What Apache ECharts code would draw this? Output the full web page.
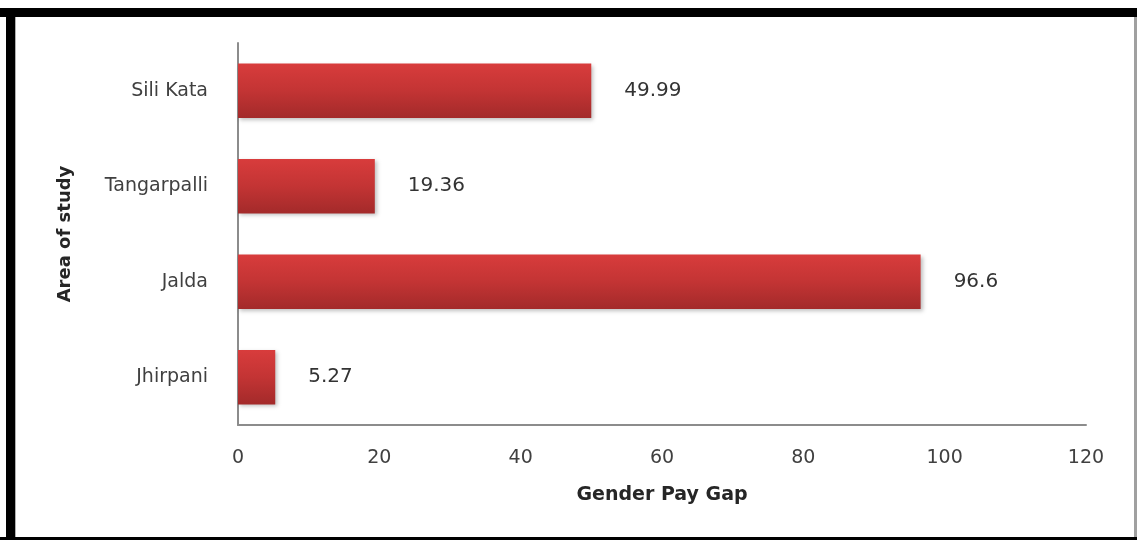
<!DOCTYPE html>
<html>
<head>
<meta charset="utf-8">
<title>Gender Pay Gap by Area of study</title>
<script src="https://cdn.jsdelivr.net/npm/echarts@6/dist/echarts.min.js"></script>
<style>
  html, body { margin: 0; padding: 0; background: #fff; }
  #chart { width: 1137px; height: 540px; }
</style>
</head>
<body>
<div id="chart"></div>
<script>
// Study areas, listed bottom to top as they appear on the category axis
const areas = ['Jhirpani', 'Jalda', 'Tangarpalli', 'Sili Kata'];
// Gender pay gap for each area
const payGap = [5.27, 96.6, 19.36, 49.99];
// Value axis ticks
const gapTicks = [0, 20, 40, 60, 80, 100, 120];

const textFont = '"DejaVu Sans", "Noto Sans", sans-serif';
const chart = echarts.init(document.getElementById('chart'), null, { renderer: 'canvas' });

chart.setOption({
  backgroundColor: '#fff',
  animation: false,
  graphic: [
    // black frame around the chart
    { type: 'rect', shape: { x: 0, y: 8, width: 1137, height: 9 }, style: { fill: '#000' } },
    { type: 'rect', shape: { x: 6, y: 8, width: 9, height: 532 }, style: { fill: '#000' } },
    { type: 'rect', shape: { x: 0, y: 537, width: 1137, height: 3 }, style: { fill: '#000' } },
    { type: 'rect', shape: { x: 1134, y: 17, width: 3, height: 520 }, style: { fill: '#a0a0a0' } },
    { type: 'rect', shape: { x: 15, y: 17, width: 1, height: 520 }, style: { fill: '#b0b0b0' } }
  ],
  grid: { left: 238, right: 51, top: 43, bottom: 115, containLabel: false },
  xAxis: {
    type: 'value',
    min: gapTicks[0],
    max: gapTicks[gapTicks.length - 1],
    interval: gapTicks[1] - gapTicks[0],
    name: 'Gender Pay Gap',
    nameLocation: 'middle',
    nameGap: 61,
    nameTextStyle: { fontFamily: textFont, fontSize: 19, fontWeight: 'bold', color: '#262626' },
    axisLine: { show: true, lineStyle: { color: '#8c8c8c', width: 2 } },
    axisTick: { show: false },
    splitLine: { show: false },
    axisLabel: { fontFamily: textFont, fontSize: 19, color: '#404040', margin: 24 }
  },
  yAxis: {
    type: 'category',
    data: areas,
    name: 'Area of study',
    nameLocation: 'middle',
    nameGap: 164,
    nameRotate: 90,
    nameTextStyle: { fontFamily: textFont, fontSize: 18, fontWeight: 'bold', color: '#262626' },
    axisLine: { show: true, lineStyle: { color: '#8c8c8c', width: 2 } },
    axisTick: { show: false },
    axisLabel: { fontFamily: textFont, fontSize: 19, color: '#404040', margin: 30 }
  },
  series: [{
    type: 'bar',
    data: payGap,
    barWidth: '57%',
    itemStyle: {
      color: new echarts.graphic.LinearGradient(0, 0, 0, 1, [
        { offset: 0, color: '#d83c3c' },
        { offset: 0.5, color: '#c33434' },
        { offset: 1, color: '#a32a2a' }
      ]),
      shadowColor: 'rgba(0,0,0,0.25)',
      shadowBlur: 4,
      shadowOffsetX: 2,
      shadowOffsetY: 2
    },
    label: {
      show: true,
      position: 'right',
      distance: 33,
      fontFamily: textFont,
      fontSize: 20,
      color: '#333'
    }
  }]
});
</script>
</body>
</html>
